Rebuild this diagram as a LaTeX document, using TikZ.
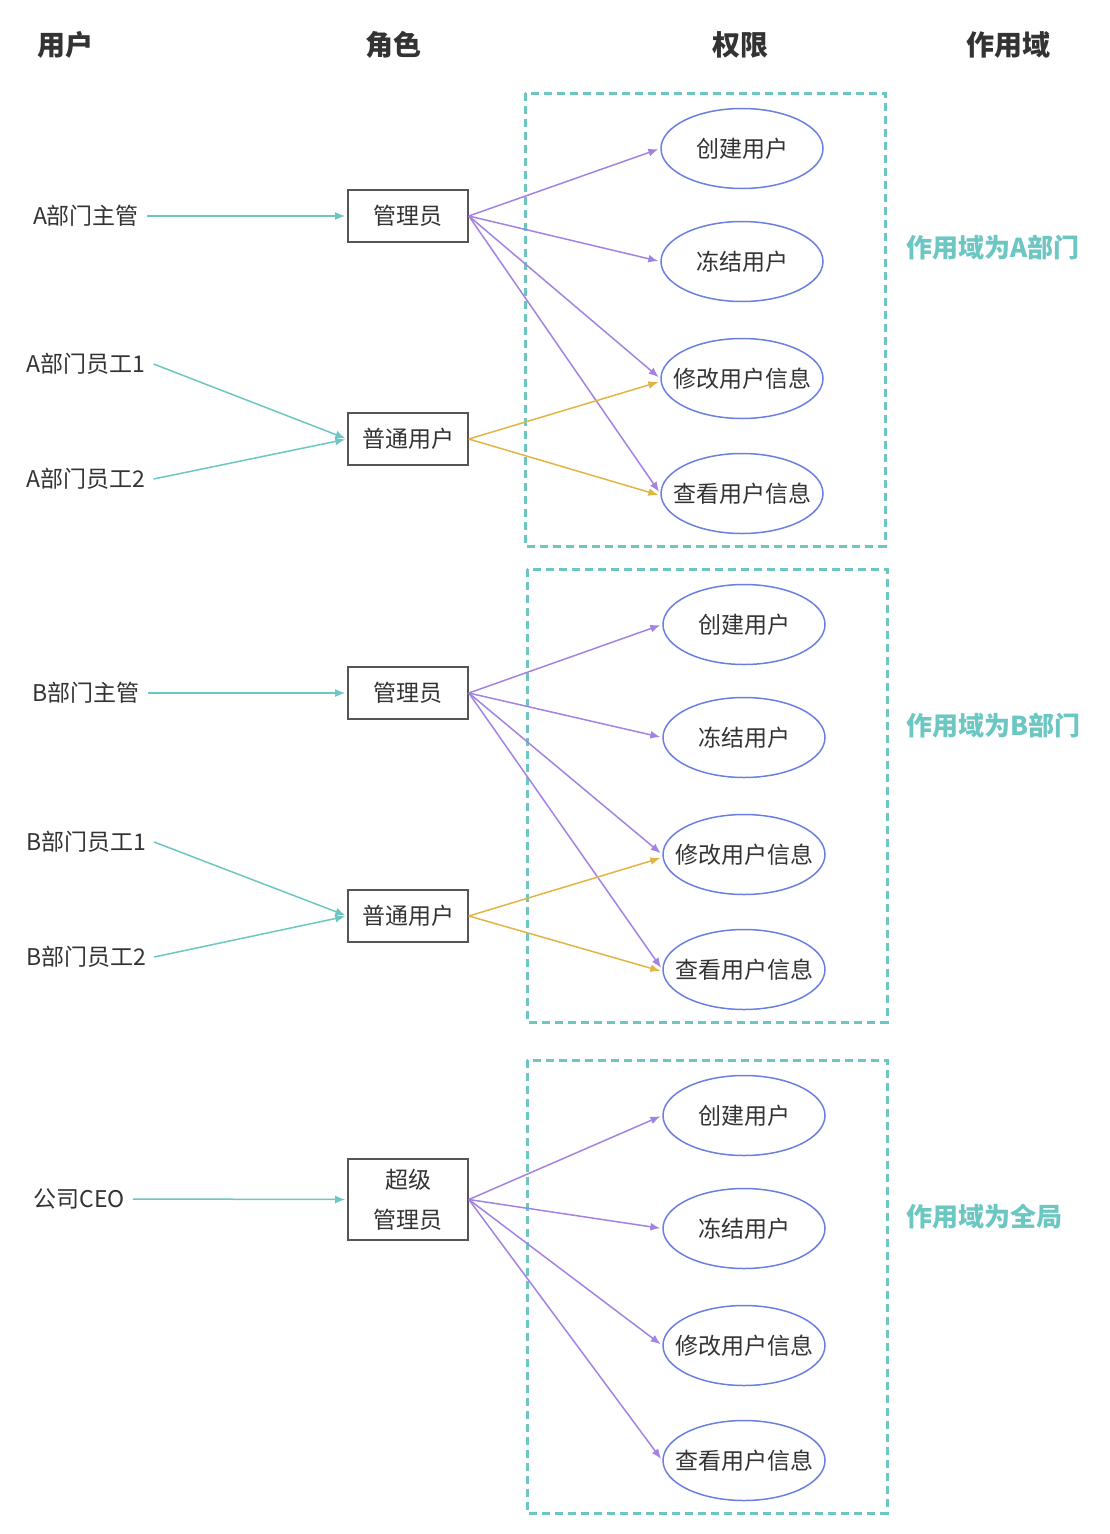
\documentclass[tikz,border=0pt]{standalone}
\usepackage{fontspec}
\setmainfont{Noto Sans CJK SC}
\usetikzlibrary{positioning,shapes.geometric,arrows.meta}
\definecolor{textgray}{HTML}{333333}
\definecolor{boxgray}{HTML}{555555}
\definecolor{scopeteal}{HTML}{6CC6C2}
\definecolor{permblue}{HTML}{6A80E0}
\definecolor{grantpurple}{HTML}{A283E2}
\definecolor{grantorange}{HTML}{E2B444}
\tikzset{
  every node/.style={text=textgray, font=\fontsize{23}{27}\selectfont},
  head/.style={font=\fontsize{28}{32}\selectfont\bfseries},
  user/.style={inner sep=8pt},
  role/.style={draw=boxgray, line width=1.6pt, minimum width=120pt, minimum height=52pt, inner sep=0pt, align=center},
  perm/.style={ellipse, draw=permblue, line width=1.5pt, minimum width=162pt, minimum height=80pt, inner xsep=-13pt, inner ysep=0pt},
  scopebox/.style={draw=scopeteal, line width=3pt, dash pattern=on 8pt off 5pt},
  scopelabel/.style={text=scopeteal, font=\fontsize{26}{30}\selectfont\bfseries, anchor=west, inner sep=0pt},
  assign/.style={draw=scopeteal, line width=1.5pt, -{Latex[length=10pt,width=8pt]}, shorten >=2pt},
  grant/.style={draw=grantpurple, line width=1.5pt, -{Latex[length=10pt,width=8pt]}, shorten >=2pt},
  viewgrant/.style={grant, draw=grantorange},
  pics/permset/.style={
    code={
      \draw[scopebox] (-180,-226.5) rectangle (180,226.5);
      \foreach \t/\dy [count=\i] in {创建用户/-171, 冻结用户/-58, 修改用户信息/59, 查看用户信息/174}
        \node[perm] (-p\i) at (37,\dy) {\t};
    }
  }
}
\begin{document}
\begin{tikzpicture}[x=1pt, y=-1pt]
  \useasboundingbox (0,0) rectangle (1110,1534);

  % column titles
  \node[head] (hUser)  at (65,45)   {用户};
  \node[head] (hRole)  at (393,45)  {角色};
  \node[head] (hPerm)  at (740,45)  {权限};
  \node[head] (hScope) at (1008,45) {作用域};

  % scope A
  \pic (A) at (705,319.5) {permset};
  \node[role] (Aadmin)  at (408,216) {管理员};
  \node[role] (Anormal) at (408,439) {普通用户};
  \node[user] (Amgr)  at (86,216) {A部门主管};
  \node[user] (Aemp1) at (86,364) {A部门员工1};
  \node[user] (Aemp2) at (86,479) {A部门员工2};
  \node[scopelabel] (Ascope) at (906,248) {作用域为A部门};

  \draw[assign] (Amgr.east) -- (Aadmin.west);
  \draw[assign] (Aemp1.east) -- (Anormal.west);
  \draw[assign] (Aemp2.east) -- (Anormal.west);
  \foreach \i in {1,...,4}
    \draw[grant] (Aadmin.east) -- (A-p\i.west);
  \draw[viewgrant] (Anormal.east) -- ([yshift=-3pt]A-p3.west);
  \draw[viewgrant] (Anormal.east) -- ([yshift=-2pt]A-p4.west);

  % scope B
  \pic (B) at (707,795.5) {permset};
  \node[role] (Badmin)  at (408,693) {管理员};
  \node[role] (Bnormal) at (408,916) {普通用户};
  \node[user] (Bmgr)  at (86,693) {B部门主管};
  \node[user] (Bemp1) at (86,842) {B部门员工1};
  \node[user] (Bemp2) at (86,957) {B部门员工2};
  \node[scopelabel] (Bscope) at (906,726) {作用域为B部门};

  \draw[assign] (Bmgr.east) -- (Badmin.west);
  \draw[assign] (Bemp1.east) -- (Bnormal.west);
  \draw[assign] (Bemp2.east) -- (Bnormal.west);
  \foreach \i in {1,...,4}
    \draw[grant] (Badmin.east) -- (B-p\i.west);
  \draw[viewgrant] (Bnormal.east) -- ([yshift=-3pt]B-p3.west);
  \draw[viewgrant] (Bnormal.east) -- ([yshift=-2pt]B-p4.west);

  % global scope
  \pic (C) at (707,1286.5) {permset};
  \node[role, minimum height=81pt, font=\fontsize{23}{40}\selectfont] (Csuper) at (408,1199.5) {超级\\管理员};
  \node[user] (Cceo) at (79,1199) {公司CEO};
  \node[scopelabel] (Cscope) at (906,1217) {作用域为全局};

  \draw[assign] (Cceo.east) -- (Csuper.west);
  \foreach \i in {1,...,4}
    \draw[grant] (Csuper.east) -- (C-p\i.west);
\end{tikzpicture}
\end{document}
